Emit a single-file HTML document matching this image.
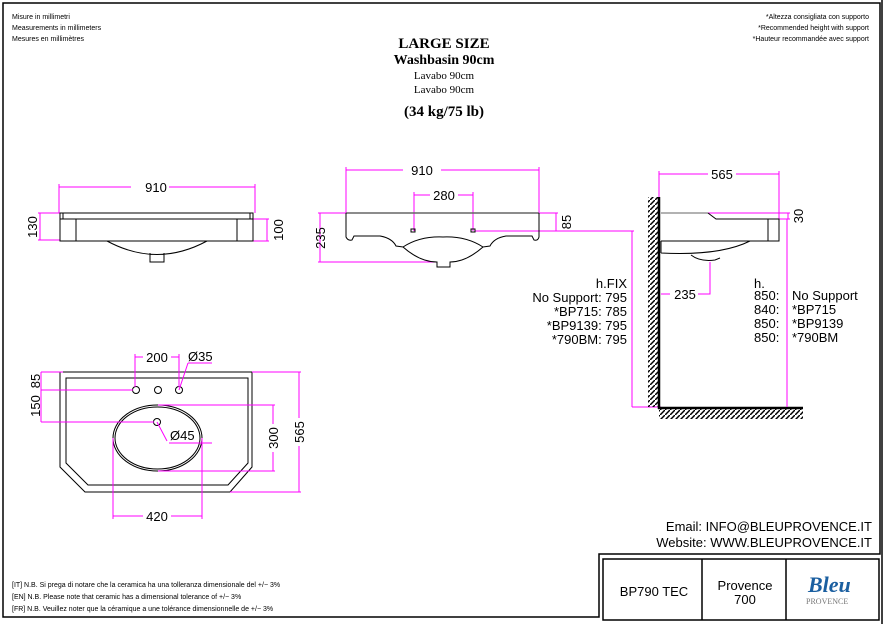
<!DOCTYPE html>
<html><head><meta charset="utf-8"><style>
html,body{margin:0;padding:0;background:#fff;width:883px;height:624px;overflow:hidden}
svg{display:block}
text{font-family:"Liberation Sans",sans-serif}
text.sf{font-family:"Liberation Serif",serif}
.m{stroke:#f0f;stroke-width:1;fill:none}
.k{stroke:#000;stroke-width:1.5;fill:none}
.t{stroke:#000;stroke-width:1;fill:none}
.d{font-size:13px;fill:#000}
.s{font-size:7px;fill:#000}
</style></head><body>
<svg width="883" height="624" viewBox="0 0 883 624">
<defs>
<pattern id="h" width="5" height="5" patternUnits="userSpaceOnUse"><path d="M0 5 L5 0" stroke="#000" stroke-width="1.5"/></pattern>
</defs>
<!-- frame -->
<path d="M3 3 H880 V554 H599 V617 H3 Z" class="k"/>
<line x1="882" y1="0" x2="882" y2="624" stroke="#000" stroke-width="1.5"/>
<rect x="603" y="559" width="276" height="61" class="k"/>
<line x1="702" y1="559" x2="702" y2="620" class="k"/>
<line x1="786" y1="559" x2="786" y2="620" class="k"/>
<text x="654" y="596" class="d" text-anchor="middle" font-size="13">BP790 TEC</text>
<text x="745" y="590" class="d" text-anchor="middle">Provence</text>
<text x="745" y="604" class="d" text-anchor="middle">700</text>
<text x="808" y="592" class="sf" font-style="italic" font-weight="bold" font-size="22" fill="#1b5fa0">Bleu</text>
<text x="806" y="604" class="sf" font-size="8" fill="#777">PROVENCE</text>
<text x="872" y="531" class="d" font-size="9.5" text-anchor="end">Email:  INFO@BLEUPROVENCE.IT</text>
<text x="872" y="547" class="d" font-size="9.5" text-anchor="end">Website:  WWW.BLEUPROVENCE.IT</text>
<!-- header -->
<text x="12" y="19" class="s">Misure in millimetri</text>
<text x="12" y="30" class="s">Measurements in millimeters</text>
<text x="12" y="41" class="s">Mesures en millimètres</text>
<text x="869" y="19" class="s" text-anchor="end">*Altezza consigliata con supporto</text>
<text x="869" y="30" class="s" text-anchor="end">*Recommended height with support</text>
<text x="869" y="41" class="s" text-anchor="end">*Hauteur recommandée avec support</text>
<g text-anchor="middle" fill="#000">
<text x="444" y="48" class="sf" font-size="15" font-weight="bold">LARGE SIZE</text>
<text x="444" y="64" class="sf" font-size="14" font-weight="bold">Washbasin 90cm</text>
<text x="444" y="79" class="sf" font-size="11">Lavabo 90cm</text>
<text x="444" y="93" class="sf" font-size="11">Lavabo 90cm</text>
<text x="444" y="116" class="sf" font-size="15" font-weight="bold">(34 kg/75 lb)</text>
</g>
<text x="12" y="587" class="s">[IT] N.B. Si prega di notare che la ceramica ha una tolleranza dimensionale del +/− 3%</text>
<text x="12" y="599" class="s">[EN] N.B. Please note that ceramic has a dimensional tolerance of +/− 3%</text>
<text x="12" y="611" class="s">[FR] N.B. Veuillez noter que la céramique a une tolérance dimensionnelle de +/− 3%</text>

<!-- top-left elevation -->
<path d="M59 187 H255 M59 184 V213 M255 184 V213 M38 213 H60 M38 240 H60 M40 213 V240 M253 219 H269 M253 241 H269 M267 219 V241" class="m"/>
<rect x="131" y="180" width="38" height="12" fill="#fff"/>
<text x="156" y="192" class="d" text-anchor="middle">910</text>
<text transform="translate(37,227) rotate(-90)" class="d" text-anchor="middle">130</text>
<text transform="translate(283,230) rotate(-90)" class="d" text-anchor="middle">100</text>
<path d="M60 213 H253 V219 H60 Z M63 213 V219 M250 213 V219 M60 219 V241 H253 V219 M76 219 V241 M237 219 V241" class="t"/>
<path d="M107 241 Q157 268 207 241 M150 253 V262 H164 V253" class="t" stroke="#444"/>

<!-- front elevation -->
<path d="M346 170 H539 M346 167 V213 M539 167 V213 M414 195 H473 M414 192 V231 M473 192 V231 M318 213 H346 M318 262 H437 M320 213 V262 M539 213 H558 M475 231 H634 M556 213 V231 M632 231 V407 M632 407 H661" class="m"/>
<rect x="403" y="164" width="38" height="12" fill="#fff"/>
<text x="422" y="175" class="d" text-anchor="middle">910</text>
<rect x="430" y="189" width="28" height="12" fill="#fff"/>
<text x="444" y="200" class="d" text-anchor="middle">280</text>
<text transform="translate(325,238) rotate(-90)" class="d" text-anchor="middle">235</text>
<text transform="translate(571,222) rotate(-90)" class="d" text-anchor="middle">85</text>
<line x1="346" y1="213" x2="539" y2="213" stroke="#666" stroke-width="1.5"/>
<path d="M346 213 V237 Q348 241 352 240 L354 236 H380 Q392 238 396 246 L403 247 Q420 236 443 237 Q466 236 483 247 L490 246 Q494 238 506 236 H532 L534 240 Q538 241 539 237 V213" class="t"/>
<path d="M403 247 Q420 262 437 262 V267 H450 V262 Q466 262 483 247" class="t"/>
<rect x="411" y="229" width="4" height="3" class="t"/>
<rect x="471" y="229" width="4" height="3" class="t"/>

<!-- side view -->
<rect x="648" y="197" width="11" height="210" fill="url(#h)"/>
<line x1="659" y1="197" x2="659" y2="409" stroke="#000" stroke-width="2.5"/>
<rect x="659" y="409" width="144" height="10" fill="url(#h)"/>
<line x1="658" y1="408" x2="803" y2="408" stroke="#000" stroke-width="2.5"/>
<path d="M659 174 H779 M659 171 V197 M779 171 V219 M708 213 H790 M779 219 H790 M788 213 V219 M787 219 V407 M661 294 H710 V262" class="m"/>
<rect x="708" y="168" width="28" height="12" fill="#fff"/>
<text x="722" y="179" class="d" text-anchor="middle">565</text>
<text transform="translate(803,216) rotate(-90)" class="d" text-anchor="middle">30</text>
<rect x="670" y="288" width="28" height="12" fill="#fff"/>
<text x="685" y="299" class="d" text-anchor="middle">235</text>
<path d="M661 213 H708" stroke="#999" stroke-width="1.5"/>
<path d="M708 213 L716 219 H779 V241 H661 M768 219 V241" class="t"/>
<path d="M661 241 V253 M661 253 Q720 256 750 241 M691 255 Q700 262 715 260 L720 258" class="t" stroke="#555"/>
<g class="d">
<text x="754" y="288">h.</text>
<text x="754" y="300">850:</text><text x="792" y="300">No Support</text>
<text x="754" y="314">840:</text><text x="792" y="314">*BP715</text>
<text x="754" y="328">850:</text><text x="792" y="328">*BP9139</text>
<text x="754" y="342">850:</text><text x="792" y="342">*790BM</text>
<text x="627" y="288" text-anchor="end">h.FIX</text>
<text x="627" y="302" text-anchor="end">No Support:  795</text>
<text x="627" y="316" text-anchor="end">*BP715:  785</text>
<text x="627" y="330" text-anchor="end">*BP9139:  795</text>
<text x="627" y="344" text-anchor="end">*790BM:  795</text>
</g>

<!-- plan view -->
<path d="M60 372 H252 V467 L230 492 H85 L60 467 Z" class="t" stroke-width="1.3"/>
<path d="M66 378 H248 V463 L228 485 H88 L66 463 Z" class="t" stroke-width="1.3"/>
<ellipse cx="157.5" cy="438" rx="44.5" ry="33" class="t" stroke-width="1.3"/>
<ellipse cx="157.5" cy="438" rx="42.5" ry="31" class="t" stroke="#777"/>
<circle cx="136" cy="390" r="3.5" class="t"/>
<circle cx="158" cy="390" r="3.5" class="t"/>
<circle cx="179" cy="390" r="3.5" class="t"/>
<circle cx="157" cy="422" r="3.5" class="t"/>
<path d="M41 372 H63 M41 390 H133 M41 422 H154 M41 372 V422 M135 357 H179 M135 354 V387 M179 354 V387 M179 390 L188 363 M188 363 H212 M157 422 L167 441 M169 443 H212 M158 405 H275 M158 471 H275 M273 405 V471 M252 372 H301 M230 492 H301 M299 372 V492 M113 438 V519 M202 438 V519 M113 516 H202" class="m"/>
<rect x="143" y="351" width="28" height="12" fill="#fff"/>
<text x="157" y="362" class="d" text-anchor="middle">200</text>
<text x="188" y="361" class="d">Ø35</text>
<text x="170" y="440" class="d">Ø45</text>
<rect x="143" y="510" width="28" height="12" fill="#fff"/>
<text x="157" y="521" class="d" text-anchor="middle">420</text>
<text transform="translate(40,381) rotate(-90)" class="d" text-anchor="middle">85</text>
<text transform="translate(40,406) rotate(-90)" class="d" text-anchor="middle">150</text>
<rect x="267" y="424" width="12" height="28" fill="#fff"/>
<text transform="translate(278,438) rotate(-90)" class="d" text-anchor="middle">300</text>
<rect x="293" y="418" width="12" height="28" fill="#fff"/>
<text transform="translate(304,432) rotate(-90)" class="d" text-anchor="middle">565</text>
</svg>
</body></html>
